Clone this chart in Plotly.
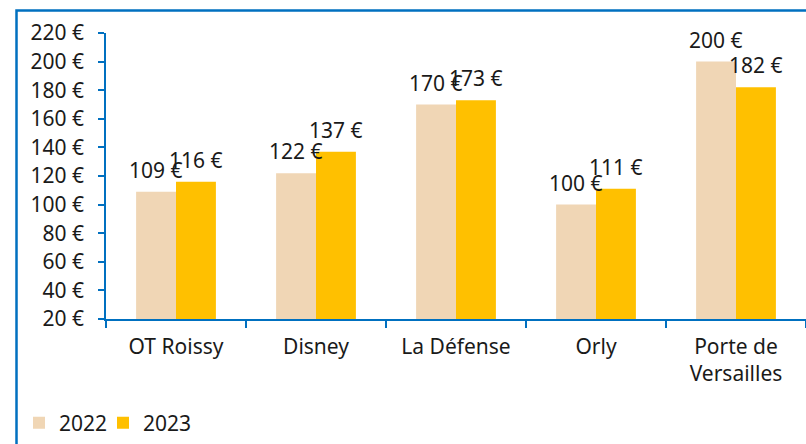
import plotly.graph_objects as go

categories = ["OT Roissy", "Disney", "La Défense", "Orly", "Porte de<br>Versailles"]
values_2022 = [109, 122, 170, 100, 200]
values_2023 = [116, 137, 173, 111, 182]
series_names = ["2022", "2023"]
colors = ["#F0D6B5", "#FFC000"]

FONT = "Noto Sans"
BLUE = "#0070C0"
TXT = "#1a1a1a"
FS = 21

L, T, B = 106, 33, 125
W, H = 806, 444
pw, ph = W - L, H - T - B

def px_x(p):
    return (p - L) / pw

def px_y(p):
    return (H - B - p) / ph

fig = go.Figure()
legends = ["legend", "legend2"]
for name, vals, col, lg in zip(series_names, [values_2022, values_2023], colors, legends):
    fig.add_trace(go.Bar(x=categories, y=vals, name=name, marker_color=col,
                         marker_line_width=0, legend=lg))

# data labels
for vals, shift in [(values_2022, -20), (values_2023, 20)]:
    for c, v in zip(categories, vals):
        fig.add_annotation(x=c, y=v, text=f"{v} €", showarrow=False,
                           xshift=shift, yanchor="bottom", yshift=6,
                           font=dict(family=FONT, size=FS, color=TXT))

# outer frame
fig.add_shape(type="rect", xref="paper", yref="paper",
              x0=px_x(16.5), x1=px_x(830), y0=px_y(470), y1=px_y(10.5),
              line=dict(color=BLUE, width=2.5), fillcolor="rgba(0,0,0,0)")

leg_common = dict(orientation="h", xanchor="left", y=px_y(423), yanchor="middle",
                  font=dict(family=FONT, size=FS, color=TXT),
                  bgcolor="rgba(0,0,0,0)")

fig.update_layout(
    width=W, height=H,
    margin=dict(l=L, r=0, t=T, b=B, autoexpand=False),
    paper_bgcolor="white", plot_bgcolor="white",
    barmode="group", bargap=0.43, bargroupgap=0,
    font=dict(family=FONT, size=FS, color=TXT),
    showlegend=True,
    legend=dict(x=px_x(19), **leg_common),
    legend2=dict(x=px_x(103), **leg_common),
)
fig.update_xaxes(showline=True, linecolor=BLUE, linewidth=1.5,
                 ticks="outside", tickson="boundaries", ticklen=7,
                 tickcolor=BLUE, tickwidth=1.5, showgrid=False,
                 automargin=False, ticklabelstandoff=8,
                 tickfont=dict(family=FONT, size=FS, color=TXT))
fig.update_yaxes(range=[20, 220], dtick=20, tick0=20, ticksuffix=" €",
                 showline=True, linecolor=BLUE, linewidth=1.5,
                 ticks="outside", ticklen=6, tickcolor=BLUE, tickwidth=1.5,
                 showgrid=False, zeroline=False, automargin=False,
                 ticklabelstandoff=10,
                 tickfont=dict(family=FONT, size=FS, color=TXT))

fig.write_html("out.html", config={"displayModeBar": False},
               post_script="document.body.style.margin='0';")
